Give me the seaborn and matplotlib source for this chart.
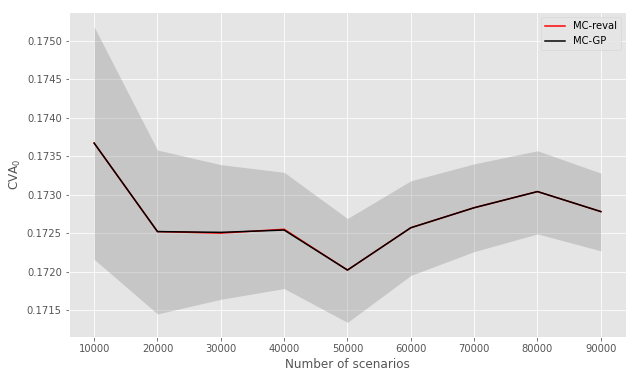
import numpy as np
import pandas as pd
import matplotlib
matplotlib.use("Agg")
import matplotlib.pyplot as plt
import seaborn as sns

# scenarios and CVA_0 estimates
scenarios = [10000, 20000, 30000, 40000, 50000, 60000, 70000, 80000, 90000]
cva_reval = [0.17367, 0.17252, 0.17250, 0.17255, 0.17202, 0.17257, 0.17283, 0.17304, 0.17278]
cva_gp = [0.17367, 0.17252, 0.17251, 0.17254, 0.17202, 0.17257, 0.17283, 0.17304, 0.17278]
band_upper = [0.17518, 0.17358, 0.17339, 0.17329, 0.17269, 0.17318, 0.17340, 0.17357, 0.17328]
band_lower = [0.17216, 0.17145, 0.17164, 0.17178, 0.17134, 0.17195, 0.17226, 0.17249, 0.17227]

plt.style.use("ggplot")

df = pd.DataFrame({
    "scenarios": scenarios * 2,
    "cva": cva_reval + cva_gp,
    "method": ["MC-reval"] * len(scenarios) + ["MC-GP"] * len(scenarios),
})

fig, ax = plt.subplots(figsize=(637 / 72, 378 / 72), dpi=72)
fig.subplots_adjust(left=0.108, right=0.983, top=0.968, bottom=0.108)

ax.fill_between(scenarios, band_lower, band_upper, color="grey", alpha=0.3, linewidth=0)
sns.lineplot(data=df, x="scenarios", y="cva", hue="method",
             palette={"MC-reval": "red", "MC-GP": "black"},
             linewidth=1.5, ax=ax)

ax.set_xlabel("Number of scenarios")
ax.set_ylabel("CVA$_0$")
ax.legend(loc="upper right")

fig.savefig("out.png", dpi=72)
